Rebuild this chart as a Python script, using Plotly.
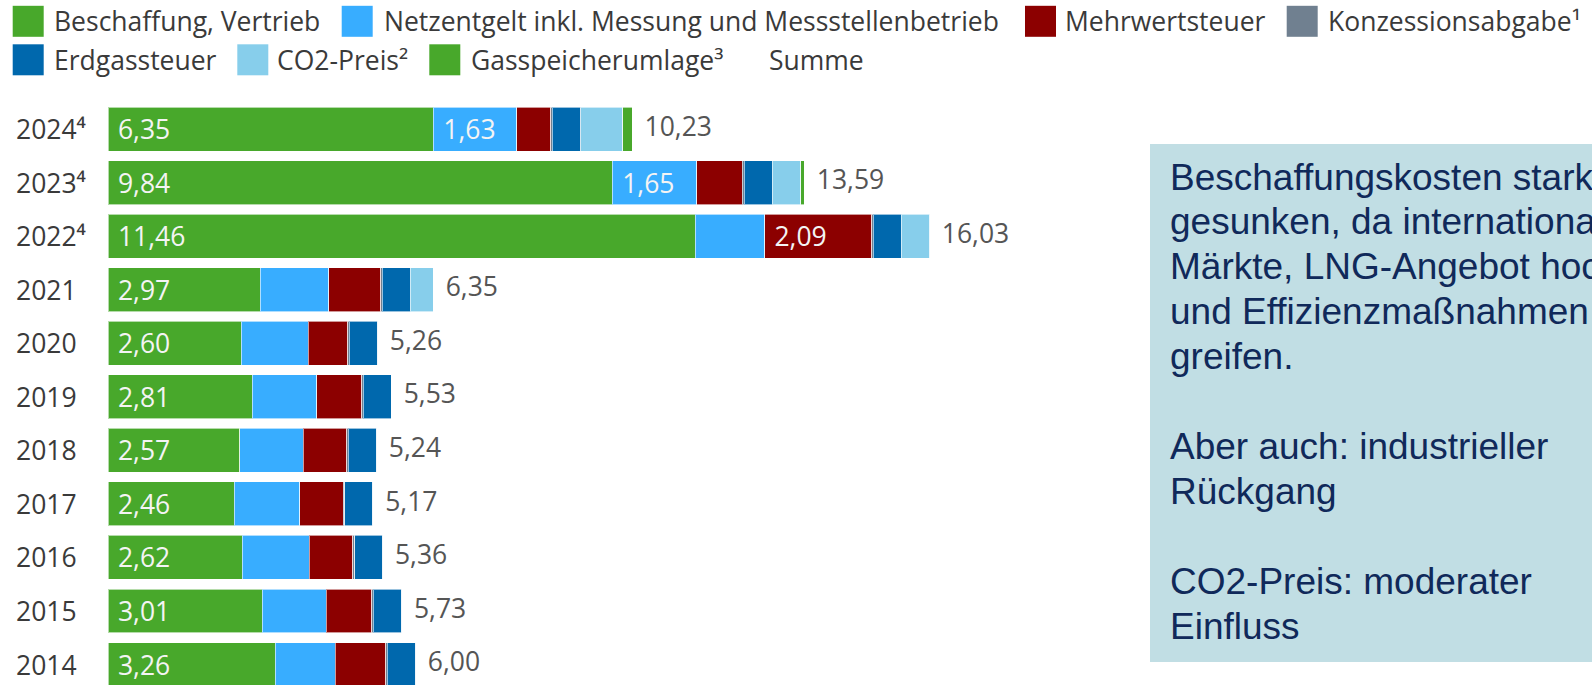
import plotly.graph_objects as go

# ---------------- data ----------------
years = ["2014", "2015", "2016", "2017", "2018", "2019", "2020", "2021", "2022", "2023", "2024"]
year_labels = ["2014", "2015", "2016", "2017", "2018", "2019", "2020", "2021",
               "2022⁴", "2023⁴", "2024⁴"]

beschaffung = [3.26, 3.01, 2.62, 2.46, 2.57, 2.81, 2.60, 2.97, 11.46, 9.84, 6.35]
netzentgelt = [1.17, 1.25, 1.31, 1.28, 1.24, 1.26, 1.31, 1.34, 1.35, 1.65, 1.63]
mehrwertsteuer = [0.99, 0.89, 0.85, 0.85, 0.85, 0.88, 0.77, 1.01, 2.09, 0.89, 0.66]
konzession = [0.03, 0.03, 0.03, 0.03, 0.03, 0.03, 0.03, 0.03, 0.03, 0.03, 0.03]
erdgassteuer = [0.55, 0.55, 0.55, 0.55, 0.55, 0.55, 0.55, 0.55, 0.55, 0.55, 0.55]
co2_preis = [0, 0, 0, 0, 0, 0, 0, 0.45, 0.55, 0.56, 0.82]
gasspeicher = [0, 0, 0, 0, 0, 0, 0, 0, 0, 0.07, 0.19]
summe = [6.00, 5.73, 5.36, 5.17, 5.24, 5.53, 5.26, 6.35, 16.03, 13.59, 10.23]

netz_label_years = ["2023", "2024"]
mwst_label_years = ["2022"]

series_names = ["Beschaffung, Vertrieb",
                "Netzentgelt inkl. Messung und Messstellenbetrieb",
                "Mehrwertsteuer", "Konzessionsabgabe¹",
                "Erdgassteuer", "CO2-Preis²", "Gasspeicherumlage³"]
series_values = [beschaffung, netzentgelt, mehrwertsteuer, konzession,
                 erdgassteuer, co2_preis, gasspeicher]
series_colors = ["#48a82b", "#38adff", "#8c0000", "#708090", "#0068ad", "#87ceeb", "#48a82b"]

note_lines = ["Beschaffungskosten stark", "gesunken, da internationale",
              "Märkte, LNG-Angebot hoch", "und Effizienzmaßnahmen",
              "greifen.", "", "Aber auch: industrieller", "Rückgang", "",
              "CO2-Preis: moderater", "Einfluss"]

# ---------------- layout geometry ----------------
W, H = 1592, 685
L, T = 108, 100
PW, PH = W - L, H - T
PX_PER_UNIT = 51.25


def px(x):
    """screen x -> paper x"""
    return (x - L) / PW


def py(y):
    """screen y -> paper y"""
    return 1 - (y - T) / PH


def fmt(v):
    return f"{v:.2f}".replace(".", ",")


FONT = "Open Sans"
FS = 26.5
fig = go.Figure()

for i, (name, vals, col) in enumerate(zip(series_names, series_values, series_colors)):
    if i == 0:
        texts = ["\u00a0" + fmt(v) for v in vals]
    elif i == 1:
        texts = ["\u00a0" + fmt(v) if y in netz_label_years else "" for v, y in zip(vals, years)]
    elif i == 2:
        texts = ["\u00a0" + fmt(v) if y in mwst_label_years else "" for v, y in zip(vals, years)]
    else:
        texts = ["" for _ in vals]
    fig.add_trace(go.Bar(
        x=vals, y=years, orientation="h", name=name,
        marker=dict(color=col, line=dict(color="rgba(255,255,255,0.6)", width=1)),
        text=texts, textposition="inside", insidetextanchor="start",
        constraintext="none",
        insidetextfont=dict(family=FONT, size=FS, color="#f4f4f4"),
        showlegend=False, hoverinfo="skip",
    ))

fig.add_trace(go.Scatter(
    x=summe, y=years, mode="markers+text", name="Summe",
    text=[fmt(v) for v in summe], textposition="middle right",
    marker=dict(size=18, opacity=0),
    textfont=dict(family=FONT, size=FS, color="#555555"),
    showlegend=False, hoverinfo="skip", cliponaxis=False,
))

shapes = []
annotations = []

# year labels (left aligned)
for idx, lab in enumerate(year_labels):
    annotations.append(dict(x=px(14), xref="paper", y=idx, yref="y", text=lab,
                            xanchor="left", yanchor="middle", showarrow=False,
                            font=dict(family=FONT, size=FS, color="#3a3a3a")))

# legend
legend_items = [
    (series_names[0], series_colors[0], 12.7, 51.7, 21.3),
    (series_names[1], series_colors[1], 341.7, 381.7, 21.3),
    (series_names[2], series_colors[2], 1025, 1063.3, 21.3),
    (series_names[3], series_colors[3], 1286.7, 1326, 21.3),
    (series_names[4], series_colors[4], 12.7, 51.7, 59.8),
    (series_names[5], series_colors[5], 237.3, 275, 59.8),
    (series_names[6], series_colors[6], 429.3, 469, 59.8),
    ("Summe", None, None, 766.7, 59.8),
]
for name, col, sx, tx, cy in legend_items:
    if col is not None:
        shapes.append(dict(type="rect", xref="paper", yref="paper",
                           x0=px(sx), x1=px(sx + 31), y0=py(cy - 15.5), y1=py(cy + 15.5),
                           fillcolor=col, line=dict(width=0)))
    annotations.append(dict(x=px(tx), xref="paper", y=py(cy), yref="paper", text=name,
                            xanchor="left", yanchor="middle", showarrow=False,
                            font=dict(family=FONT, size=FS, color="#3a3a3a")))

# note box
shapes.append(dict(type="rect", xref="paper", yref="paper",
                   x0=px(1150), x1=px(1600), y0=py(662), y1=py(144),
                   fillcolor="#c1dee4", line=dict(width=0), layer="below"))
for k, line in enumerate(note_lines):
    if not line:
        continue
    cy = 177 + k * 44.9
    annotations.append(dict(x=px(1168), xref="paper", y=py(cy), yref="paper", text=line,
                            xanchor="left", yanchor="middle", showarrow=False,
                            font=dict(family="Liberation Sans, Arial", size=37, color="#10295a")))

fig.update_layout(
    width=W, height=H,
    margin=dict(l=L, r=0, t=T, b=0),
    barmode="stack", bargap=0.18,
    plot_bgcolor="white", paper_bgcolor="white",
    separators=",.",
    shapes=shapes, annotations=annotations,
    xaxis=dict(range=[0, PW / PX_PER_UNIT], visible=False, fixedrange=True),
    yaxis=dict(type="category", categoryorder="array", categoryarray=years,
               range=[-0.383, 10.5455], showticklabels=False, showgrid=False,
               zeroline=False, showline=False, ticks="", fixedrange=True),
    font=dict(family=FONT),
)

fig.write_html("out.html",
               config={"displayModeBar": False, "staticPlot": True},
               post_script="document.body.style.margin='0';document.body.style.overflow='hidden';")
